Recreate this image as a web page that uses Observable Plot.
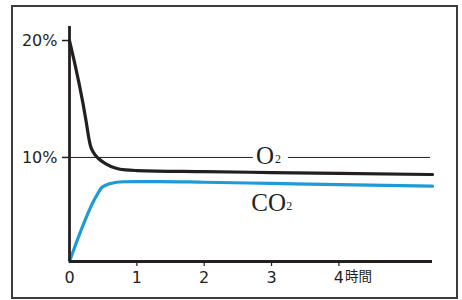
<!DOCTYPE html>
<html>
<head>
<meta charset="utf-8">
<script src="https://cdn.jsdelivr.net/npm/d3@7"></script>
<script src="https://cdn.jsdelivr.net/npm/@observablehq/plot@0.6"></script>
<style>
  html, body { margin: 0; padding: 0; background: #fff; }
  #wrap { position: relative; width: 462px; height: 300px; }
  #border { position: absolute; left: 11px; top: 5px; width: 443px; height: 290px; border: 2px solid #3c3c3c; pointer-events: none; }
</style>
</head>
<body>
<div id="wrap"><div id="border"></div></div>
<script>
// O2 concentration (%) over time (hours)
const o2Time  = [0, 0.245, 0.28, 0.31, 0.356, 0.43, 0.534, 0.68, 0.83, 1.0, 2.0, 3.0, 4.0, 5.39];
const o2Value = [20.0, 13.16, 11.88, 11.02, 10.42, 9.91, 9.48, 9.10, 8.93, 8.88, 8.79, 8.71, 8.63, 8.54];
// CO2 concentration (%) over time (hours)
const co2Time  = [0, 0.386, 0.43, 0.46, 0.53, 0.61, 0.80, 1.0, 1.35, 2.0, 3.0, 4.0, 5.39];
const co2Value = [1.1, 6.57, 7.0, 7.3, 7.6, 7.77, 7.92, 7.94, 7.94, 7.88, 7.78, 7.68, 7.54];
// ticks
const yTicks = [10, 20];
const xTicks = [0, 1, 2, 3, 4];
const xUnit = "時間";
const refLevel = 10;

const o2 = o2Time.map((t, i) => ({t, v: o2Value[i]}));
const co2 = co2Time.map((t, i) => ({t, v: co2Value[i]}));
const lastX = xTicks[xTicks.length - 1];

const ink = "#231f20";
const blue = "#1f9ad8";
const sans = "'DejaVu Sans', 'Noto Sans CJK JP', sans-serif";
const serif = "'Liberation Serif', 'DejaVu Serif', serif";

const chart = Plot.plot({
  width: 462,
  height: 300,
  marginLeft: 69,
  marginRight: 30,
  marginTop: 26,
  marginBottom: 39,
  style: {background: "transparent", color: ink, fontFamily: sans},
  x: {domain: [0, 5.39], label: null},
  y: {domain: [1.1, 21.2], label: null},
  marks: [
    // reference line at 10%, broken around the O2 label
    Plot.ruleY([refLevel], {x1: 0, x2: 2.73, stroke: ink, strokeWidth: 1}),
    Plot.ruleY([refLevel], {x1: 3.25, x2: 5.36, stroke: ink, strokeWidth: 1}),
    // O2 label
    Plot.text(["O"], {x: 2.77, y: 9.48, text: d => d, textAnchor: "start", lineAnchor: "bottom", fontFamily: serif, fontSize: 25, fill: ink}),
    Plot.text(["2"], {x: 3.05, y: 9.48, text: d => d, textAnchor: "start", lineAnchor: "bottom", dy: -1, fontFamily: serif, fontSize: 12, fill: ink}),
    // CO2 label
    Plot.text(["CO"], {x: 2.70, y: 5.38, text: d => d, textAnchor: "start", lineAnchor: "bottom", fontFamily: serif, fontSize: 25, fill: ink}),
    Plot.text(["2"], {x: 3.22, y: 5.38, text: d => d, textAnchor: "start", lineAnchor: "bottom", dy: -1, fontFamily: serif, fontSize: 12, fill: ink}),
    // data lines
    Plot.line(co2, {x: "t", y: "v", stroke: blue, strokeWidth: 3.2, curve: "monotone-x"}),
    Plot.line(o2, {x: "t", y: "v", stroke: ink, strokeWidth: 3.2, curve: "monotone-x"}),
    // axes
    Plot.axisY(yTicks, {tickFormat: d => d + "%", tickSize: 7, tickPadding: 5, fontSize: 16, stroke: ink, strokeWidth: 1.5, fill: ink}),
    Plot.axisX(xTicks, {tickSize: 0, tickPadding: 10, fontSize: 16, fill: ink}),
    Plot.axisX(xTicks.filter(d => d > 0), {tickSize: 5, text: null, stroke: ink, strokeWidth: 1.2}),
    Plot.text([lastX], {x: d => d, frameAnchor: "bottom", dy: 19, dx: 6, text: () => xUnit, textAnchor: "start", fontSize: 13.5, fontFamily: sans, fill: ink}),
    Plot.ruleX([0], {y1: 1.1, y2: 21.2, stroke: ink, strokeWidth: 2.8}),
    Plot.ruleY([1.1], {x1: 0, x2: 5.39, stroke: ink, strokeWidth: 2.8})
  ]
});
document.getElementById("wrap").prepend(chart);
</script>
</body>
</html>
